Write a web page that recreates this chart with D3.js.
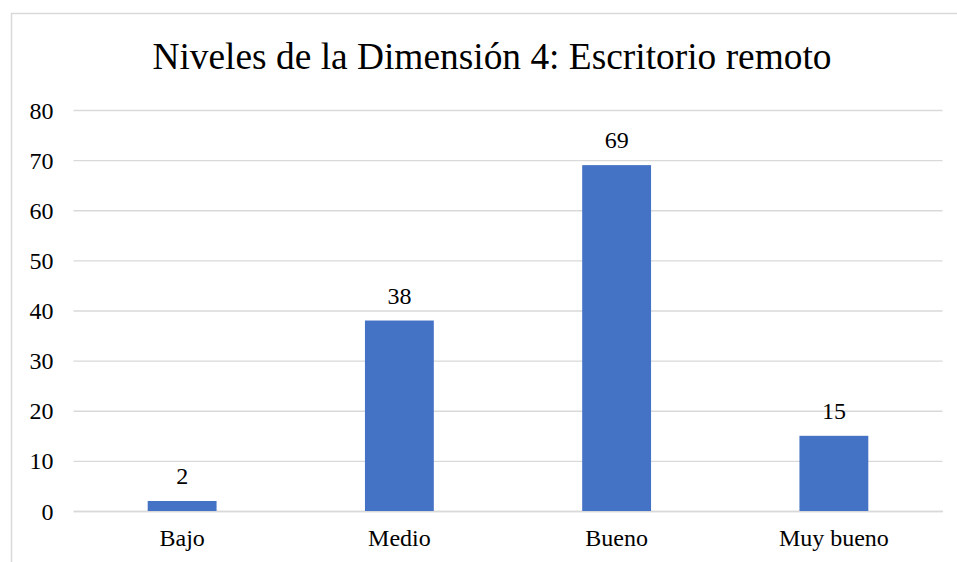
<!DOCTYPE html>
<html>
<head>
<meta charset="utf-8">
<script src="https://cdn.jsdelivr.net/npm/d3@7"></script>
<style>
  body { margin: 0; background: #fff; }
  svg text { font-family: 'Liberation Serif', 'Times New Roman', serif; fill: #000; }
</style>
</head>
<body>
<svg id="chart" width="957" height="562"></svg>
<script>
const categories = ['Bajo', 'Medio', 'Bueno', 'Muy bueno']
const values = [2, 38, 69, 15]
const yTicks = [0, 10, 20, 30, 40, 50, 60, 70, 80]
const title = 'Niveles de la Dimensión 4: Escritorio remoto'

const margin = { top: 110, right: 14.5, bottom: 51, left: 73.5 }
const width = 957
const height = 562
const innerWidth = width - margin.left - margin.right
const innerHeight = height - margin.top - margin.bottom
const fontFamily = "'Liberation Serif', 'Times New Roman', serif"

const svg = d3.select('#chart')

// chart frame, only top and left edges are visible (the rest is cropped)
svg.append('path')
  .attr('d', `M11.5,${height} V13.5 H${width}`)
  .attr('fill', 'none')
  .attr('stroke', '#d9d9d9')
  .attr('stroke-width', 1.5)

svg.append('text')
  .attr('x', 492)
  .attr('y', 69)
  .attr('text-anchor', 'middle')
  .style('font-family', fontFamily)
  .style('font-size', '37.4px')
  .text(title)

const x = d3.scaleBand()
  .domain(categories)
  .range([0, innerWidth])
  .paddingInner(0.683)
  .paddingOuter(0.683 / 2)

const y = d3.scaleLinear()
  .domain([0, 80])
  .range([innerHeight, 0])

const g = svg.append('g')
  .attr('transform', `translate(${margin.left}, ${margin.top})`)

// grid lines
g.append('g')
  .attr('class', 'grid')
  .call(d3.axisLeft(y).tickValues(yTicks).tickSize(-innerWidth).tickFormat(''))
  .call(a => a.select('.domain').remove())
  .call(a => a.selectAll('.tick line').attr('stroke', '#d9d9d9').attr('stroke-width', 1.3))
  .call(a => a.selectAll('.tick text').remove())

// y labels
g.append('g')
  .attr('class', 'y axis')
  .attr('font-family', fontFamily)
  .call(d3.axisLeft(y).tickValues(yTicks).tickSize(0).tickPadding(20))
  .call(a => a.select('.domain').remove())
  .call(a => a.selectAll('.tick line').remove())
  .call(a => a.selectAll('.tick text')
    .attr('dy', null)
    .attr('y', 8)
    .style('font-family', fontFamily)
    .style('font-size', '24px')
    .attr('fill', '#000'))

const xAxis = d3.axisBottom(x).tickSize(0).tickPadding(18)
g.append('g')
  .attr('class', 'x axis')
  .attr('transform', `translate(0, ${innerHeight})`)
  .attr('font-family', fontFamily)
  .call(xAxis)
  .call(a => a.select('.domain').attr('stroke', '#d9d9d9').attr('stroke-width', 1.3))
  .call(a => a.selectAll('.tick text')
    .attr('dy', null)
    .attr('y', 35)
    .style('font-family', fontFamily)
    .style('font-size', '24px')
    .attr('fill', '#000'))

g.selectAll('.bar')
  .data(values)
  .enter()
  .append('rect')
  .attr('class', 'bar')
  .attr('x', (d, i) => x(categories[i]))
  .attr('y', d => y(d))
  .attr('width', x.bandwidth())
  .attr('height', d => innerHeight - y(d))
  .attr('fill', '#4472c4')

g.selectAll('.label')
  .data(values)
  .enter()
  .append('text')
  .attr('class', 'label')
  .attr('x', (d, i) => x(categories[i]) + x.bandwidth() / 2)
  .attr('y', d => y(d) - 17)
  .attr('text-anchor', 'middle')
  .style('font-family', fontFamily)
  .style('font-size', '24px')
  .text(d => d)
</script>
</body>
</html>
